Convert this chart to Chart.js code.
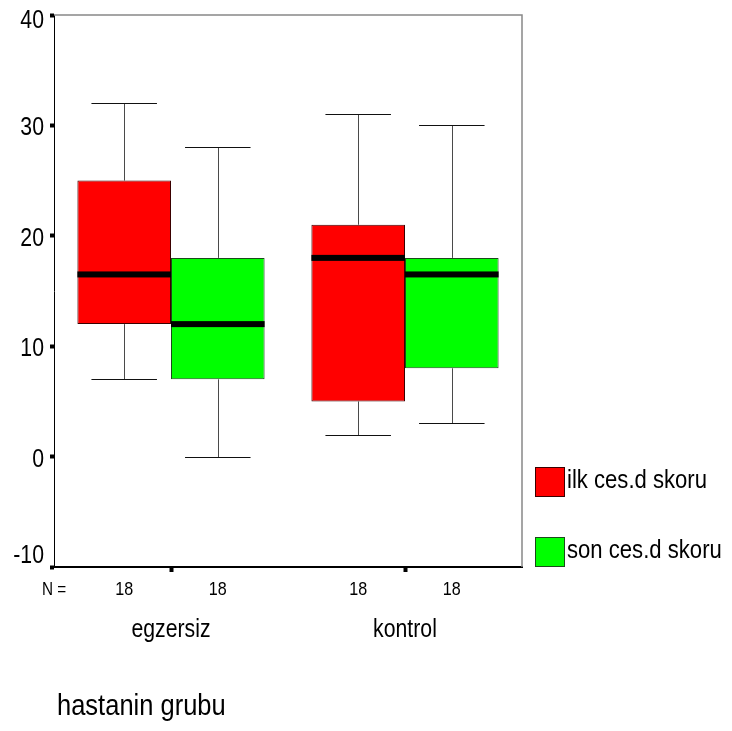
<!DOCTYPE html>
<html>
<head>
<meta charset="utf-8">
<script src="https://cdn.jsdelivr.net/npm/chart.js@4/dist/chart.umd.min.js"></script>
<style>
  html, body { margin: 0; padding: 0; background: #fff; }
  #wrap { width: 732px; height: 731px; }
</style>
</head>
<body>
<div id="wrap"><canvas id="c" width="732" height="731"></canvas></div>
<script>
// Groups and box-plot statistics (CES-D scores)
const categories = ['egzersiz', 'kontrol'];
const seriesNames = ['ilk ces.d skoru', 'son ces.d skoru'];

const ilkMin    = [7, 2];
const ilkQ1     = [12, 5];
const ilkMedian = [16.5, 18];
const ilkQ3     = [25, 21];
const ilkMax    = [32, 31];
const ilkN      = [18, 18];

const sonMin    = [0, 3];
const sonQ1     = [7, 8];
const sonMedian = [12, 16.5];
const sonQ3     = [18, 18];
const sonMax    = [28, 30];
const sonN      = [18, 18];

const yTickValues = [-10, 0, 10, 20, 30, 40];
const axisTitle = 'hastanin grubu';
const nLabel = 'N =';

const FONT = "'Liberation Sans', Arial, sans-serif";
const SX = 0.85; // horizontal squeeze for a narrow typeface look

function makeSeries(label, fill, border, lo, q1, med, q3, hi, n) {
  return {
    label,
    data: categories.map((_, i) => [q1[i], q3[i]]),
    backgroundColor: fill,
    borderColor: border,
    borderWidth: 1,
    borderSkipped: false,
    categoryPercentage: 0.8,
    barPercentage: 1.0,
    whiskerLow: lo,
    whiskerHigh: hi,
    median: med,
    count: n
  };
}

const datasets = [
  makeSeries(seriesNames[0], '#ff0000', '#3a0000', ilkMin, ilkQ1, ilkMedian, ilkQ3, ilkMax, ilkN),
  makeSeries(seriesNames[1], '#00ff00', '#1c4a1c', sonMin, sonQ1, sonMedian, sonQ3, sonMax, sonN)
];

function narrowText(ctx, text, x, y, align, size) {
  ctx.save();
  ctx.font = size + 'px ' + FONT;
  ctx.textAlign = align;
  ctx.textBaseline = 'alphabetic';
  ctx.fillStyle = '#000';
  ctx.translate(x, y);
  ctx.scale(SX, 1);
  ctx.fillText(text, 0, 0);
  ctx.restore();
}

// Whiskers and median bars on top of the floating boxes
const boxWhiskers = {
  id: 'boxWhiskers',
  afterDatasetsDraw(chart) {
    const ctx = chart.ctx;
    const ys = chart.scales.y;
    chart.data.datasets.forEach((ds, di) => {
      const meta = chart.getDatasetMeta(di);
      meta.data.forEach((bar, i) => {
        const p = bar.getProps(['x', 'width'], true);
        const cx = Math.round(p.x) + 0.5;
        const w = p.width;
        const yQ1 = ys.getPixelForValue(ds.data[i][0]);
        const yQ3 = ys.getPixelForValue(ds.data[i][1]);
        const yLo = Math.round(ys.getPixelForValue(ds.whiskerLow[i])) + 0.5;
        const yHi = Math.round(ys.getPixelForValue(ds.whiskerHigh[i])) + 0.5;
        const yMed = ys.getPixelForValue(ds.median[i]);
        ctx.save();
        // stems
        ctx.strokeStyle = '#4a4a4a';
        ctx.lineWidth = 1;
        ctx.beginPath();
        ctx.moveTo(cx, yQ3); ctx.lineTo(cx, yHi);
        ctx.moveTo(cx, yQ1); ctx.lineTo(cx, yLo);
        ctx.stroke();
        // caps
        const cap = w * 0.7;
        ctx.strokeStyle = '#111';
        ctx.beginPath();
        ctx.moveTo(p.x - cap / 2, yHi); ctx.lineTo(p.x + cap / 2, yHi);
        ctx.moveTo(p.x - cap / 2, yLo); ctx.lineTo(p.x + cap / 2, yLo);
        ctx.stroke();
        // median
        ctx.fillStyle = '#000';
        ctx.fillRect(p.x - w / 2, yMed - 3, w, 6);
        ctx.restore();
      });
    });
  }
};

// Grey frame on the top and right of the plot area
const plotFrame = {
  id: 'plotFrame',
  beforeDatasetsDraw(chart) {
    const { ctx, chartArea: a } = chart;
    ctx.save();
    ctx.strokeStyle = '#888';
    ctx.lineWidth = 1.5;
    ctx.beginPath();
    ctx.moveTo(a.left, a.top);
    ctx.lineTo(a.right, a.top);
    ctx.lineTo(a.right, a.bottom);
    ctx.stroke();
    ctx.restore();
  }
};

// Axis labels, N row and legend
const annotations = {
  id: 'annotations',
  afterDraw(chart) {
    const { ctx, chartArea: a } = chart;
    const ys = chart.scales.y;
    const xs = chart.scales.x;

    // y tick labels (end labels kept inside the frame)
    ys.ticks.forEach((t) => {
      let y = ys.getPixelForValue(t.value) + 10;
      if (t.value === ys.max) y += 3;
      if (t.value === ys.min) y -= 14;
      narrowText(ctx, String(t.value), a.left - 10, y, 'right', 25);
    });

    // N row
    const nY = a.bottom + 28;
    narrowText(ctx, nLabel, a.left - 12, nY, 'left', 18);
    chart.data.datasets.forEach((ds, di) => {
      chart.getDatasetMeta(di).data.forEach((bar, i) => {
        narrowText(ctx, String(ds.count[i]), bar.x, nY, 'center', 19);
      });
    });

    // category labels
    chart.data.labels.forEach((lab, i) => {
      narrowText(ctx, lab, xs.getPixelForTick(i), a.bottom + 70, 'center', 25);
    });

    // axis title
    narrowText(ctx, axisTitle, a.left + 3, a.bottom + 148, 'left', 30);

    // legend
    const lx = a.right + 13;
    const box = 30;
    const gap = 70;
    const n = chart.data.datasets.length;
    chart.data.datasets.forEach((ds, di) => {
      const top = a.bottom - box - (n - 1 - di) * gap;
      ctx.save();
      ctx.fillStyle = ds.backgroundColor;
      ctx.fillRect(lx, top, box, box);
      ctx.strokeStyle = ds.borderColor;
      ctx.lineWidth = 1;
      ctx.strokeRect(lx + 0.5, top + 0.5, box - 1, box - 1);
      ctx.restore();
      narrowText(ctx, ds.label, lx + box + 2, top + 21, 'left', 26);
    });
  }
};

new Chart(document.getElementById('c'), {
  type: 'bar',
  data: { labels: categories, datasets },
  options: {
    responsive: false,
    animation: false,
    devicePixelRatio: 1,
    layout: { padding: { left: 0, right: 210, top: 15, bottom: 0 } },
    plugins: { legend: { display: false }, tooltip: { enabled: false } },
    scales: {
      x: {
        type: 'category',
        offset: true,
        grid: { display: true, drawOnChartArea: false, drawTicks: true, tickLength: 5, tickWidth: 4, tickColor: '#000', offset: false },
        border: { display: true, color: '#000', width: 2 },
        ticks: { display: false },
        afterFit(s) { s.height = 164; }
      },
      y: {
        min: yTickValues[0],
        max: yTickValues[yTickValues.length - 1],
        afterBuildTicks(s) { s.ticks = yTickValues.map(v => ({ value: v })); },
        ticks: { display: false },
        grid: { display: true, drawOnChartArea: false, drawTicks: true, tickLength: 4, tickWidth: 4, tickColor: '#000' },
        border: { display: true, color: '#000', width: 1 },
        afterFit(s) { s.width = 54; }
      }
    }
  },
  plugins: [plotFrame, boxWhiskers, annotations]
});
</script>
</body>
</html>
